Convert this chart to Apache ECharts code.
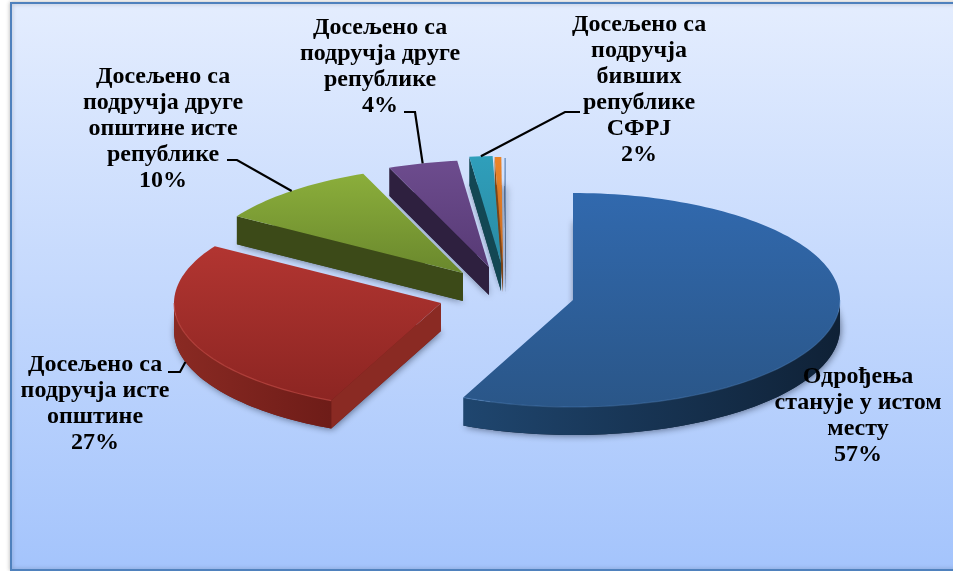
<!DOCTYPE html>
<html><head><meta charset="utf-8">
<style>html,body{margin:0;padding:0;background:#fff}#c{width:953px;height:571px}</style>
<script src="https://cdn.jsdelivr.net/npm/echarts@6/dist/echarts.min.js"></script>
</head><body><div id="c"></div>
<script>
var categories = ['Одрођења\nстанује у истом\nместу','Досељено са\nподручја исте\nопштине','Досељено са\nподручја друге\nопштине исте\nрепублике','Досељено са\nподручја друге\nрепублике','Досељено са\nподручја\nбивших\nрепублике\nСФРЈ','',''];
var values = [56.8,27.2,10,4.2,1.4,0.4,0.1];
var percentLabels = ['57%','27%','10%','4%','2%','',''];

// layout and style, kept apart from the data
var RX=267, RY=107, DEPTH=28;
var apexes=[[573,300],[441,303],[463,273],[489,267],[501,263],[503,264],[506,265]];
var topColors=[['#3169ae','#2a5688'],['#b23531','#8c2522'],['#8bae3b','#6a882d'],['#6d4c8e','#573a75'],['#2f9fbb','#2a8aa3'],['#ea842a','#d8701c'],['#7d9fcc','#6f90bd']];
var wallColors=[['#1f466f','#0f2136'],['#8a2a23','#6e1c18'],['#3c4a18','#364315'],['#2e203f','#2a1c3a'],['#134753','#103c47'],['#8a4a12','#7a400e'],['#4a6080','#405470']];
var rimColors=['rgba(90,140,200,0.35)','rgba(200,80,75,0.6)','','','','',''];
var labelPos=[[858,416],[95,404],[163,129],[380,67],[639,90]];
var leaders=[null,[[168,372],[180,372]],[[227,160],[237,160]],[[404,112],[415,112]],[[580,112],[565,112]]];
var leaderOnWall=[false,true,false,false,false];

var total=values.reduce(function(a,b){return a+b;},0);
function startAngle(i){var s=0;for(var k=0;k<i;k++)s+=values[k];return s/total*360;}
function pt(c,deg,dy){var r=deg*Math.PI/180;return [c[0]+RX*Math.sin(r),c[1]-RY*Math.cos(r)+(dy||0)];}
function arc(c,a,b,dy){var n=Math.max(2,Math.ceil(Math.abs(b-a)/1.5)),p=[];for(var i=0;i<=n;i++)p.push(pt(c,a+(b-a)*i/n,dy));return p;}
function vgrad(cs){return {type:'linear',x:0,y:0,x2:0,y2:1,colorStops:[{offset:0,color:cs[0]},{offset:1,color:cs[1]}]};}
function hgrad(cs){return {type:'linear',x:0,y:0,x2:1,y2:0,colorStops:[{offset:0,color:cs[0]},{offset:1,color:cs[1]}]};}

function renderItem(params,api){
  var i=params.dataIndex, c=apexes[i], a=startAngle(i), b=a+api.value(0)/total*360;
  var base=(values.length-i)*10, kids=[];
  // body carrying the soft shadow
  kids.push({type:'polygon',z2:base,shape:{points:[[c[0],c[1]+DEPTH]].concat(arc(c,a,b,DEPTH))},
    style:{fill:wallColors[i][1],shadowBlur:7,shadowColor:'rgba(20,30,50,0.55)',shadowOffsetX:1,shadowOffsetY:1}});
  // radial wall on the start edge, when it faces the viewer
  if(a>180){
    var e=pt(c,a);
    kids.push({type:'polygon',z2:base+1,shape:{points:[c,e,[e[0],e[1]+DEPTH],[c[0],c[1]+DEPTH]]},style:{fill:wallColors[i][0]}});
  }
  // outer wall on the front half
  var fa=Math.max(a,90), fb=Math.min(b,270);
  if(fb>fa){
    var t=arc(c,fa,fb,0), d=arc(c,fa,fb,DEPTH).reverse();
    kids.push({type:'polygon',z2:base+2,shape:{points:t.concat(d)},style:{fill:hgrad([wallColors[i][0],wallColors[i][1]])}});
  }
  // top face
  kids.push({type:'polygon',z2:base+3,shape:{points:[c].concat(arc(c,a,b,0))},style:{fill:vgrad(topColors[i])}});
  if(rimColors[i]&&fb>fa){
    kids.push({type:'polyline',z2:base+4,shape:{points:arc(c,fa,fb,0)},style:{fill:null,stroke:rimColors[i],lineWidth:1.2}});
  }
  // leader line
  if(leaders[i]){
    var m=pt(c,(a+b)/2,leaderOnWall[i]?DEPTH:0);
    kids.push({type:'polyline',z2:200,shape:{points:leaders[i].concat([m])},style:{fill:null,stroke:'#000',lineWidth:2.2}});
  }
  // label
  if(categories[i]){
    kids.push({type:'text',z2:300,x:labelPos[i][0],y:labelPos[i][1],style:{
      text:categories[i]+'\n'+percentLabels[i],fill:'#000',
      font:'bold 24px "Liberation Serif"',lineHeight:26,align:'center',verticalAlign:'middle'}});
  }
  return {type:'group',children:kids};
}

var chart=echarts.init(document.getElementById('c'),null,{renderer:'canvas'});
chart.setOption({
  animation:false,
  backgroundColor:'#fff',
  graphic:[{type:'rect',z:0,silent:true,shape:{x:11,y:3,width:960,height:567},
    style:{fill:{type:'linear',x:0,y:0,x2:0,y2:1,colorStops:[{offset:0,color:'#e4edfe'},{offset:1,color:'#a4c4fc'}]},
    stroke:'#4f81bd',lineWidth:2,shadowBlur:4,shadowColor:'rgba(0,0,0,0.25)'}}],
  series:[{type:'custom',coordinateSystem:'none',silent:true,z:5,clip:false,renderItem:renderItem,data:values}]
});
</script></body></html>
